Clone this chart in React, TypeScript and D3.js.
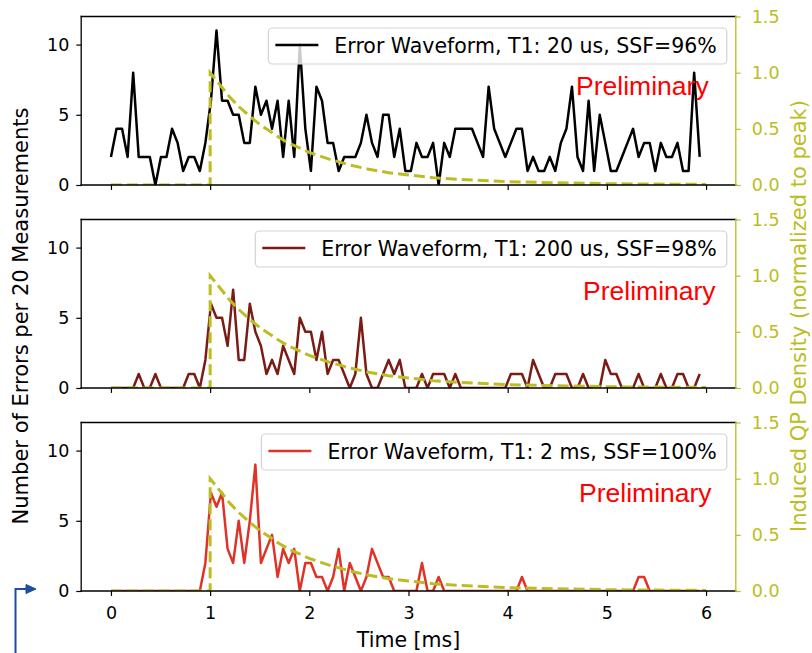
import { useEffect, useRef } from "react";
import * as d3 from "d3";

// Sample spacing of the error waveforms (ms)
const STEP_MS = 0.056;

// Errors per 20 measurements, one value per time bin
const errorsT1_20us = [
  2, 4, 4, 2, 8, 2, 2, 2, 0, 2,
  2, 4, 3, 1, 2, 2, 1, 3, 6, 11,
  6, 6, 5, 5, 3, 3, 7, 5, 6, 4,
  6, 2, 6, 2, 10, 4, 1, 7, 6, 3,
  3, 1, 2, 2, 2, 3, 5, 3, 2, 5,
  5, 2, 4, 1, 1, 3, 2, 2, 3, 0,
  3, 2, 4, 4, 4, 4, 3, 2, 7, 4,
  3, 2, 3, 4, 4, 1, 2, 1, 1, 2,
  1, 3, 4, 7, 2, 1, 6, 1, 5, 3,
  1, 1, 2, 3, 4, 2, 3, 3, 1, 3,
  2, 2, 3, 1, 1, 8, 2,
];
const errorsT1_200us = [
  0, 0, 0, 0, 0, 1, 0, 0, 1, 0,
  0, 0, 0, 0, 1, 1, 0, 2, 6, 5,
  5, 3, 7, 2, 2, 6, 4, 3, 1, 2,
  1, 3, 2, 1, 5, 4, 4, 2, 4, 1,
  2, 2, 1, 0, 1, 5, 1, 0, 0, 1,
  2, 1, 2, 0, 0, 0, 1, 0, 1, 1,
  1, 0, 1, 0, 0, 0, 0, 0, 0, 0,
  0, 0, 1, 1, 1, 0, 2, 1, 0, 0,
  1, 1, 1, 0, 0, 1, 0, 0, 0, 2,
  1, 1, 0, 0, 0, 1, 0, 0, 0, 1,
  0, 0, 1, 1, 0, 0, 1,
];
const errorsT1_2ms = [
  0, 0, 0, 0, 0, 0, 0, 0, 0, 0,
  0, 0, 0, 0, 0, 0, 0, 2, 7, 6,
  7, 3, 2, 5, 2, 5, 9, 2, 3, 4,
  1, 3, 2, 3, 0, 2, 2, 1, 1, 0,
  1, 3, 0, 2, 1, 0, 1, 3, 2, 1,
  1, 0, 0, 0, 0, 0, 2, 0, 0, 1,
  0, 0, 0, 0, 0, 0, 0, 0, 0, 0,
  0, 0, 0, 0, 1, 0, 0, 0, 0, 0,
  0, 0, 0, 0, 0, 0, 0, 0, 0, 0,
  0, 0, 0, 0, 0, 1, 1, 0, 0, 0,
  0, 0, 0, 0, 0, 0, 0,
];

const seriesLabels = [
  "Error Waveform, T1: 20 us, SSF=96%",
  "Error Waveform, T1: 200 us, SSF=98%",
  "Error Waveform, T1: 2 ms, SSF=100%",
];
const seriesColors = ["#000000", "#7a1c15", "#df3328"];

// Induced quasiparticle density, normalized to its peak
const qpTime = [0, 1, 1, 1.1, 1.2, 1.3, 1.4, 1.5, 1.6, 1.7, 1.8, 1.9, 2.0, 2.2, 2.4, 2.6, 2.8, 3.0, 3.25, 3.5, 4.0, 4.5, 5.0, 5.5, 6.0];
const qpDensity = [0, 0, 1.0, 0.89, 0.78, 0.69, 0.61, 0.54, 0.48, 0.42, 0.37, 0.33, 0.29, 0.23, 0.18, 0.14, 0.11, 0.09, 0.065, 0.05, 0.03, 0.02, 0.012, 0.008, 0.005];

const xTicks = [0, 1, 2, 3, 4, 5, 6];
const leftTicks = [0, 5, 10];
const rightTicks = [0, 0.5, 1.0, 1.5];

// Watermark anchor per panel, in (ms, errors)
const prelimX = [4.69, 4.76, 4.72];
const prelimY = [6.4, 6.27, 6.36];

const OLIVE = "#bcbd22";
const FONT = "'DejaVu Sans', sans-serif";

export default function App() {
  const ref = useRef<SVGSVGElement>(null);

  useEffect(() => {
    document.body.style.margin = "0";
    const svg = d3.select(ref.current);
    svg.selectAll("*").remove();

    const plotLeft = 81.2;
    const plotRight = 735.8;
    const panelTop0 = 16.5;
    const panelGap = 203;
    const panelH = 168.5;
    const tickLen = 4.9;

    const x = d3.scaleLinear().domain([-0.3, 6.3]).range([plotLeft, plotRight]);
    const series = [errorsT1_20us, errorsT1_200us, errorsT1_2ms];

    series.forEach((values, k) => {
      const top = panelTop0 + k * panelGap;
      const bottom = top + panelH;
      const yL = d3.scaleLinear().domain([0, 12]).range([bottom, top]);
      const yR = d3.scaleLinear().domain([0, 1.5]).range([bottom, top]);
      const g = svg.append("g");

      const clipId = `panel-clip-${k}`;
      svg
        .append("clipPath")
        .attr("id", clipId)
        .append("rect")
        .attr("x", plotLeft)
        .attr("y", top)
        .attr("width", plotRight - plotLeft)
        .attr("height", panelH);

      // error waveform
      const line = d3
        .line<number>()
        .x((_, i) => x(i * STEP_MS))
        .y((d) => yL(d));
      g.append("path")
        .datum(values)
        .attr("d", line)
        .attr("fill", "none")
        .attr("stroke", seriesColors[k])
        .attr("stroke-width", 2.5)
        .attr("stroke-linejoin", "round")
        .attr("clip-path", `url(#${clipId})`);

      // legend
      const lg = g.append("g");
      const box = lg.append("rect");
      const boxTop = top + 11.5;
      const boxH = 36;
      const label = lg
        .append("text")
        .attr("font-family", FONT)
        .attr("font-size", 20.5)
        .attr("fill", "#000")
        .attr("dominant-baseline", "central")
        .text(seriesLabels[k]);
      const tw = (label.node() as SVGTextElement).getComputedTextLength();
      const boxRight = plotRight - 9;
      const boxW = 66 + tw + 10;
      const boxLeft = boxRight - boxW;
      box
        .attr("x", boxLeft)
        .attr("y", boxTop)
        .attr("width", boxW)
        .attr("height", boxH)
        .attr("rx", 4)
        .attr("fill", "#fff")
        .attr("fill-opacity", 0.8)
        .attr("stroke", "#d3d3d3")
        .attr("stroke-width", 1.2);
      label.attr("x", boxLeft + 66).attr("y", boxTop + boxH / 2);
      lg.append("line")
        .attr("x1", boxLeft + 7)
        .attr("x2", boxLeft + 50)
        .attr("y1", boxTop + boxH / 2 - 1)
        .attr("y2", boxTop + boxH / 2 - 1)
        .attr("stroke", seriesColors[k])
        .attr("stroke-width", 2.5);

      // watermark
      g.append("text")
        .attr("x", x(prelimX[k]))
        .attr("y", yL(prelimY[k]))
        .attr("font-family", "'Liberation Sans', Arial, sans-serif")
        .attr("font-size", 26.5)
        .attr("fill", "#ff0000")
        .text("Preliminary");

      // QP density on the twin axis
      const qpLine = d3
        .line<number>()
        .x((_, i) => x(qpTime[i]))
        .y((d) => yR(d));
      g.append("path")
        .datum(qpDensity)
        .attr("d", qpLine)
        .attr("fill", "none")
        .attr("stroke", OLIVE)
        .attr("stroke-width", 3)
        .attr("stroke-dasharray", "11,5")
        .attr("clip-path", `url(#${clipId})`);

      // spines
      const spine = (x1: number, y1: number, x2: number, y2: number, c: string) =>
        g.append("line")
          .attr("x1", x1).attr("y1", y1).attr("x2", x2).attr("y2", y2)
          .attr("stroke", c).attr("stroke-width", 1.3)
          .attr("stroke-linecap", "square");
      spine(plotLeft, top, plotLeft, bottom, "#000");
      spine(plotLeft, top, plotRight, top, "#000");
      spine(plotLeft, bottom, plotRight, bottom, "#000");
      spine(plotRight, top, plotRight, bottom, OLIVE);

      // left axis
      const ax = g.append("g").attr("transform", `translate(${plotLeft},0)`);
      ax.call(d3.axisLeft(yL).tickValues(leftTicks).tickSize(tickLen).tickPadding(7).tickFormat(d3.format("d")));
      ax.select(".domain").remove();
      ax.selectAll("line").attr("stroke", "#000").attr("stroke-width", 1.2);
      ax.selectAll("text").attr("font-family", FONT).attr("font-size", 17.5).attr("fill", "#000");

      // right axis
      const axR = g.append("g").attr("transform", `translate(${plotRight},0)`);
      axR.call(d3.axisRight(yR).tickValues(rightTicks).tickSize(tickLen).tickPadding(11).tickFormat(d3.format(".1f")));
      axR.select(".domain").remove();
      axR.selectAll("line").attr("stroke", OLIVE).attr("stroke-width", 1.2);
      axR.selectAll("text").attr("font-family", FONT).attr("font-size", 17.5).attr("fill", OLIVE);

      // bottom axis
      const axB = g.append("g").attr("transform", `translate(0,${bottom})`);
      axB.call(
        d3.axisBottom(x)
          .tickValues(xTicks)
          .tickSize(tickLen)
          .tickPadding(11)
          .tickFormat(k === 2 ? d3.format("d") : () => "")
      );
      axB.select(".domain").remove();
      axB.selectAll("line").attr("stroke", "#000").attr("stroke-width", 1.2);
      axB.selectAll("text").attr("font-family", FONT).attr("font-size", 17.5).attr("fill", "#000");

      if (k === 2) {
        svg.append("text")
          .attr("x", (plotLeft + plotRight) / 2)
          .attr("y", bottom + 56)
          .attr("text-anchor", "middle")
          .attr("font-family", FONT)
          .attr("font-size", 20.5)
          .attr("fill", "#000")
          .text("Time [ms]");
      }
    });

    // shared y labels, centred on the figure's stack of panels
    const labelMid = 316;
    svg.append("text")
      .attr("transform", `translate(27.5,${labelMid}) rotate(-90)`)
      .attr("text-anchor", "middle")
      .attr("font-family", FONT)
      .attr("font-size", 21)
      .attr("fill", "#000")
      .text("Number of Errors per 20 Measurements");
    svg.append("text")
      .attr("transform", `translate(806,${labelMid}) rotate(-90)`)
      .attr("text-anchor", "middle")
      .attr("font-family", FONT)
      .attr("font-size", 21)
      .attr("fill", OLIVE)
      .text("Induced QP Density (normalized to peak)");

    // elbow pointer in the lower-left corner
    const ptr = svg.append("g").attr("stroke", "#1f4e9c").attr("fill", "#1f4e9c");
    ptr.append("path")
      .attr("d", "M15.5,653 V589 H27")
      .attr("fill", "none")
      .attr("stroke-width", 2);
    ptr.append("path")
      .attr("d", "M26,584.5 L36,589 L26,593.5 Z")
      .attr("stroke-width", 1);
  }, []);

  return <svg ref={ref} width={812} height={653} style={{ display: "block", background: "#fff" }} />;
}
